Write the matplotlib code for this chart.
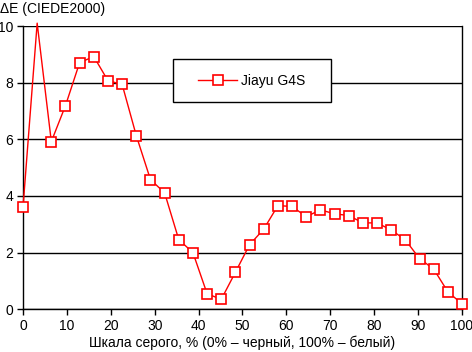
import matplotlib
matplotlib.use("Agg")
import matplotlib.pyplot as plt
from matplotlib.patches import Rectangle
import numpy as np

plt.rcParams['font.family'] = ['Liberation Sans', 'DejaVu Sans']

# grey level, % (32 steps from black to white)
gray = np.linspace(0, 100, 32)
delta_e = [3.60, 10.1, 5.92, 7.19, 8.71, 8.92, 8.07, 7.94, 6.13, 4.58,
           4.11, 2.46, 2.00, 0.55, 0.35, 1.31, 2.28, 2.83, 3.66, 3.63,
           3.27, 3.51, 3.37, 3.31, 3.05, 3.05, 2.80, 2.45, 1.79, 1.42,
           0.62, 0.19]
series_name = 'Jiayu G4S'

W, H = 472, 352
fig = plt.figure(figsize=(W / 100, H / 100), dpi=100)
x0, x1, yt, yb = 23, 462, 26, 309.3
ax = fig.add_axes([x0 / W, 1 - yb / H, (x1 - x0) / W, (yb - yt) / H])

# markers are not drawn for points above the axis top (like the original)
shown = [i for i, v in enumerate(delta_e) if v <= 10]
ax.plot(gray, delta_e, color='red', lw=1, marker='s', markersize=7,
        markerfacecolor='white', markeredgecolor='red', markeredgewidth=1.2,
        markevery=shown, clip_on=False, label=series_name, zorder=3)

ax.set_xlim(0, 100)
ax.set_ylim(0, 10)
ax.set_xticks(range(0, 101, 10))
ax.set_yticks(range(0, 11, 2))
ax.yaxis.grid(True, color='black', lw=1)
ax.set_axisbelow(True)
for s in ['left', 'right', 'bottom']:
    ax.spines[s].set_color('black')
    ax.spines[s].set_linewidth(1)
ax.spines['top'].set_visible(False)
ax.tick_params(direction='out', length=4, width=1, labelsize=10, pad=3)

ax.set_xlabel('Шкала серого, % (0% – черный, 100% – белый)', fontsize=10, labelpad=2)
fig.text(0, 1 - 9 / H, 'ΔE (CIEDE2000)', fontsize=10, ha='left', va='center')

# legend box
lx0, lx1, ly0, ly1 = 173, 331, 59.3, 102.3
box = Rectangle(((lx0 - x0) / (x1 - x0), (yb - ly1) / (yb - yt)),
                (lx1 - lx0) / (x1 - x0), (ly1 - ly0) / (yb - yt),
                transform=ax.transAxes, facecolor='white', edgecolor='black',
                lw=1, zorder=4)
ax.add_patch(box)
leg = ax.legend(loc='center', bbox_to_anchor=(((lx0 + lx1) / 2 - x0) / (x1 - x0),
                                              (yb - (ly0 + ly1) / 2) / (yb - yt)),
                frameon=False, fontsize=10, borderpad=0, handlelength=2.8,
                handletextpad=0.3, borderaxespad=0)
leg.set_zorder(5)

fig.savefig('out.png', dpi=100)
